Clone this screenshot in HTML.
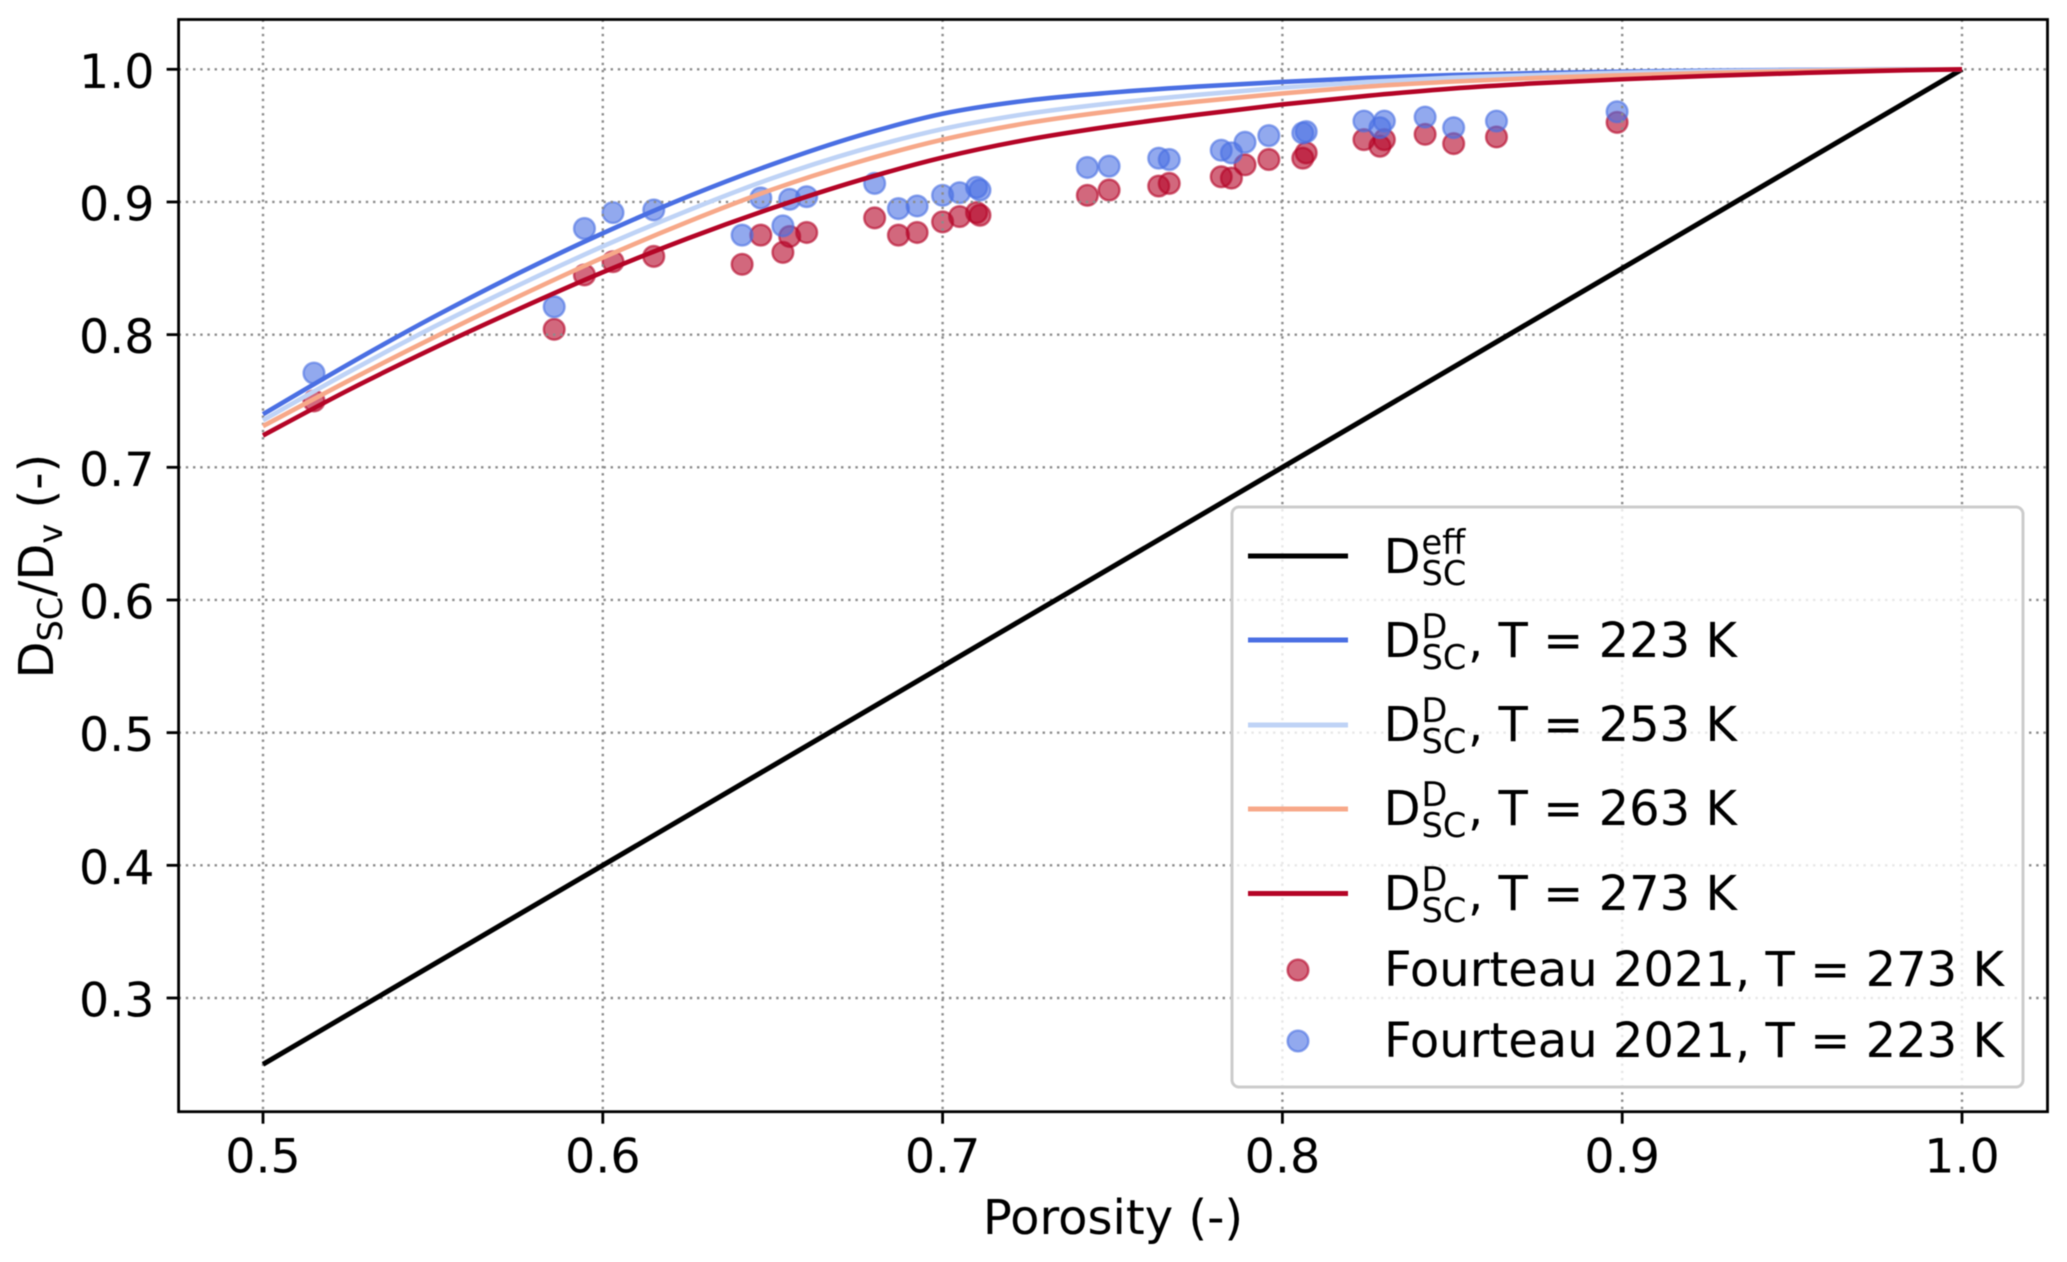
<!DOCTYPE html>
<html lang="en">
<head>
<meta charset="utf-8">
<title>Diffusion coefficient vs porosity</title>
<style>
html,body{margin:0;padding:0;background:#fff;}
body{width:2067px;height:1262px;overflow:hidden;}
svg{display:block;filter:blur(0.55px);}
text{font-family:"DejaVu Sans","Liberation Sans",sans-serif;fill:#000;}
.lg{font-size:48px;}
.lgs{font-size:33.6px;}
</style>
</head>
<body>
<svg id="chart" xmlns="http://www.w3.org/2000/svg" width="2067" height="1262" viewBox="0 0 2067 1262">
  <rect x="0" y="0" width="2067" height="1262" fill="#ffffff"/>
  <g id="markers"></g>
  <g id="grid"></g>
  <g id="lines"></g>
  <g id="axes"></g>
  <text x="1113" y="1234" text-anchor="middle" font-size="48">Porosity (-)</text>
  <text transform="translate(53,678.5) rotate(-90)" font-size="48">D<tspan font-size="33.6" dy="9">SC</tspan><tspan dy="-9">/D</tspan><tspan font-size="33.6" dy="9">v</tspan><tspan dy="-9"> (-)</tspan></text>

  <g>
    <rect x="1232" y="507" width="791" height="580" rx="7" ry="7" fill="#ffffff" fill-opacity="0.8" stroke="#cccccc" stroke-width="3"/>
    <g>
      <line x1="1248" x2="1348" y1="556" y2="556" stroke="#000000" stroke-width="5"/>
      <text class="lg" x="1383.6" y="573">D</text><text class="lgs" x="1421.5" y="554">eff</text><text class="lgs" x="1421.5" y="585">SC</text>
    </g>
    <g>
      <line x1="1248" x2="1348" y1="640" y2="640" stroke="#4a6fe3" stroke-width="5"/>
      <text class="lg" x="1383.6" y="657">D</text><text class="lgs" x="1421.5" y="638">D</text><text class="lgs" x="1421.5" y="669">SC</text><text class="lg" x="1468" y="657">, T = 223 K</text>
    </g>
    <g>
      <line x1="1248" x2="1348" y1="725" y2="725" stroke="#bfd3f6" stroke-width="5"/>
      <text class="lg" x="1383.6" y="741">D</text><text class="lgs" x="1421.5" y="722">D</text><text class="lgs" x="1421.5" y="753">SC</text><text class="lg" x="1468" y="741">, T = 253 K</text>
    </g>
    <g>
      <line x1="1248" x2="1348" y1="809" y2="809" stroke="#f7a889" stroke-width="5"/>
      <text class="lg" x="1383.6" y="825">D</text><text class="lgs" x="1421.5" y="806">D</text><text class="lgs" x="1421.5" y="837">SC</text><text class="lg" x="1468" y="825">, T = 263 K</text>
    </g>
    <g>
      <line x1="1248" x2="1348" y1="893.5" y2="893.5" stroke="#b40426" stroke-width="5"/>
      <text class="lg" x="1383.6" y="910">D</text><text class="lgs" x="1421.5" y="891">D</text><text class="lgs" x="1421.5" y="922">SC</text><text class="lg" x="1468" y="910">, T = 273 K</text>
    </g>
    <g>
      <circle cx="1298" cy="970" r="10.4" fill="#b40426" fill-opacity="0.6" stroke="#b40426" stroke-opacity="0.6" stroke-width="2.4"/>
      <text class="lg" x="1384" y="986">Fourteau 2021, T = 273 K</text>
    </g>
    <g>
      <circle cx="1298" cy="1041" r="10.4" fill="#4a6fe3" fill-opacity="0.6" stroke="#4a6fe3" stroke-opacity="0.6" stroke-width="2.4"/>
      <text class="lg" x="1384" y="1057">Fourteau 2021, T = 223 K</text>
    </g>
  </g>
</svg>
<script>
var xTicks = [0.5, 0.6, 0.7, 0.8, 0.9, 1.0];
var yTicks = [0.3, 0.4, 0.5, 0.6, 0.7, 0.8, 0.9, 1.0];
var xTickLabels = ["0.5", "0.6", "0.7", "0.8", "0.9", "1.0"];
var yTickLabels = ["0.3", "0.4", "0.5", "0.6", "0.7", "0.8", "0.9", "1.0"];

var porosityGrid = [0.5, 0.525, 0.55, 0.575, 0.6, 0.625, 0.65, 0.675, 0.7, 0.725, 0.75, 0.775, 0.8, 0.825, 0.85, 0.875, 0.9, 0.925, 0.95, 0.975, 1.0];
var dEff = [0.25, 0.2875, 0.325, 0.3625, 0.4, 0.4375, 0.475, 0.5125, 0.55, 0.5875, 0.625, 0.6625, 0.7, 0.7375, 0.775, 0.8125, 0.85, 0.8875, 0.925, 0.9625, 1.0];
var d223 = [0.7400, 0.7775, 0.8130, 0.8460, 0.8764, 0.9040, 0.9285, 0.9497, 0.9665, 0.9765, 0.9825, 0.9870, 0.9905, 0.9935, 0.9957, 0.9972, 0.9982, 0.9990, 0.9995, 0.9998, 1.0];
var d253 = [0.7355, 0.7715, 0.8055, 0.8370, 0.8665, 0.8935, 0.9180, 0.9385, 0.9550, 0.9665, 0.9745, 0.9808, 0.9862, 0.9905, 0.9937, 0.9957, 0.9975, 0.9985, 0.9992, 0.9997, 1.0];
var d263 = [0.7310, 0.7650, 0.7975, 0.8285, 0.8580, 0.8850, 0.9095, 0.9300, 0.9470, 0.9595, 0.9685, 0.9757, 0.9818, 0.9870, 0.9907, 0.9935, 0.9955, 0.9972, 0.9985, 0.9994, 1.0];
var d273 = [0.7240, 0.7580, 0.7895, 0.8190, 0.8470, 0.8725, 0.8955, 0.9160, 0.9335, 0.9470, 0.9572, 0.9658, 0.9735, 0.9800, 0.9855, 0.9895, 0.9925, 0.9950, 0.9970, 0.9988, 1.0];

var fourteauPorosity = [0.515, 0.5857, 0.5946, 0.603, 0.615, 0.641, 0.6465, 0.653, 0.655, 0.660, 0.680, 0.687, 0.6925, 0.700, 0.705, 0.710, 0.711, 0.7426, 0.749, 0.7636, 0.7667, 0.782, 0.785, 0.789, 0.796, 0.806, 0.807, 0.824, 0.8287, 0.830, 0.842, 0.8504, 0.863, 0.8985];
var fourteau273 = [0.750, 0.804, 0.845, 0.855, 0.859, 0.853, 0.875, 0.862, 0.874, 0.877, 0.888, 0.875, 0.877, 0.885, 0.889, 0.892, 0.890, 0.905, 0.909, 0.912, 0.914, 0.919, 0.918, 0.928, 0.932, 0.933, 0.937, 0.947, 0.942, 0.947, 0.951, 0.944, 0.949, 0.960];
var fourteau223 = [0.771, 0.821, 0.880, 0.892, 0.894, 0.875, 0.903, 0.882, 0.902, 0.904, 0.914, 0.895, 0.897, 0.905, 0.907, 0.911, 0.909, 0.926, 0.927, 0.933, 0.932, 0.939, 0.937, 0.945, 0.950, 0.952, 0.953, 0.961, 0.956, 0.961, 0.964, 0.956, 0.961, 0.968];

var NS = "http://www.w3.org/2000/svg";
var plotLeft = 178.6, plotRight = 2047.5, plotTop = 19.5, plotBottom = 1111.7;

function xScale(v) { return 263 + (v - 0.5) * 3398; }
function yScale(v) { return 69.3 + (1 - v) * 1326.7; }

function make(tag, attrs, parent) {
  var el = document.createElementNS(NS, tag);
  for (var k in attrs) { el.setAttribute(k, attrs[k]); }
  parent.appendChild(el);
  return el;
}

function smoothPath(xs, ys) {
  var pts = xs.map(function (x, i) { return [xScale(x), yScale(ys[i])]; });
  var d = "M" + pts[0][0] + " " + pts[0][1];
  for (var i = 0; i < pts.length - 1; i++) {
    var p0 = pts[Math.max(i - 1, 0)], p1 = pts[i], p2 = pts[i + 1], p3 = pts[Math.min(i + 2, pts.length - 1)];
    var c1x = p1[0] + (p2[0] - p0[0]) / 6, c1y = p1[1] + (p2[1] - p0[1]) / 6;
    var c2x = p2[0] - (p3[0] - p1[0]) / 6, c2y = p2[1] - (p3[1] - p1[1]) / 6;
    d += " C" + c1x + " " + c1y + " " + c2x + " " + c2y + " " + p2[0] + " " + p2[1];
  }
  return d;
}

var markersG = document.getElementById("markers");
var gridG = document.getElementById("grid");
var linesG = document.getElementById("lines");
var axesG = document.getElementById("axes");

function drawMarkers(values, color, name) {
  values.forEach(function (v, i) {
    var c = make("circle", {
      cx: xScale(fourteauPorosity[i]), cy: yScale(v), r: 10.4,
      fill: color, "fill-opacity": 0.6, stroke: color, "stroke-opacity": 0.6, "stroke-width": 2.4
    }, markersG);
    
    
  });
}
drawMarkers(fourteau273, "#b40426", "marker-fourteau-273k");
drawMarkers(fourteau223, "#4a6fe3", "marker-fourteau-223k");

xTicks.forEach(function (t) {
  var g = make("line", {
    x1: xScale(t), x2: xScale(t), y1: plotTop, y2: plotBottom,
    stroke: "#8c8c8c", "stroke-width": 2.4, "stroke-dasharray": "2.4 4.8"
  }, gridG);
  
  
});
yTicks.forEach(function (t) {
  var g = make("line", {
    x1: plotLeft, x2: plotRight, y1: yScale(t), y2: yScale(t),
    stroke: "#8c8c8c", "stroke-width": 2.4, "stroke-dasharray": "2.4 4.8"
  }, gridG);
  
  
});

function drawLine(values, color, width, name) {
  var p = make("path", {
    d: smoothPath(porosityGrid, values), fill: "none", stroke: color,
    "stroke-width": width, "stroke-linejoin": "round"
  }, linesG);
  
  
}
drawLine(dEff, "#000000", 5, "line-deff");
drawLine(d223, "#4a6fe3", 4.6, "line-223k");
drawLine(d253, "#bfd3f6", 4.6, "line-253k");
drawLine(d263, "#f7a889", 4.6, "line-263k");
drawLine(d273, "#b40426", 4.6, "line-273k");

var frame = make("rect", {
  x: plotLeft, y: plotTop, width: plotRight - plotLeft, height: plotBottom - plotTop,
  fill: "none", stroke: "#000000", "stroke-width": 2.8
}, axesG);



xTicks.forEach(function (t, i) {
  var tick = make("line", {
    x1: xScale(t), x2: xScale(t), y1: plotBottom, y2: plotBottom + 12,
    stroke: "#000000", "stroke-width": 2.8
  }, axesG);
  
  
  var lab = make("text", { x: xScale(t), y: 1172.5, "text-anchor": "middle", "font-size": 47.5 }, axesG);
  lab.textContent = xTickLabels[i];
  
  
});
yTicks.forEach(function (t, i) {
  var tick = make("line", {
    x1: plotLeft - 12, x2: plotLeft, y1: yScale(t), y2: yScale(t),
    stroke: "#000000", "stroke-width": 2.8
  }, axesG);
  
  
  var lab = make("text", { x: 154.5, y: yScale(t) + 18.5, "text-anchor": "end", "font-size": 47.5 }, axesG);
  lab.textContent = yTickLabels[i];
  
  
});
</script>
</body>
</html>
